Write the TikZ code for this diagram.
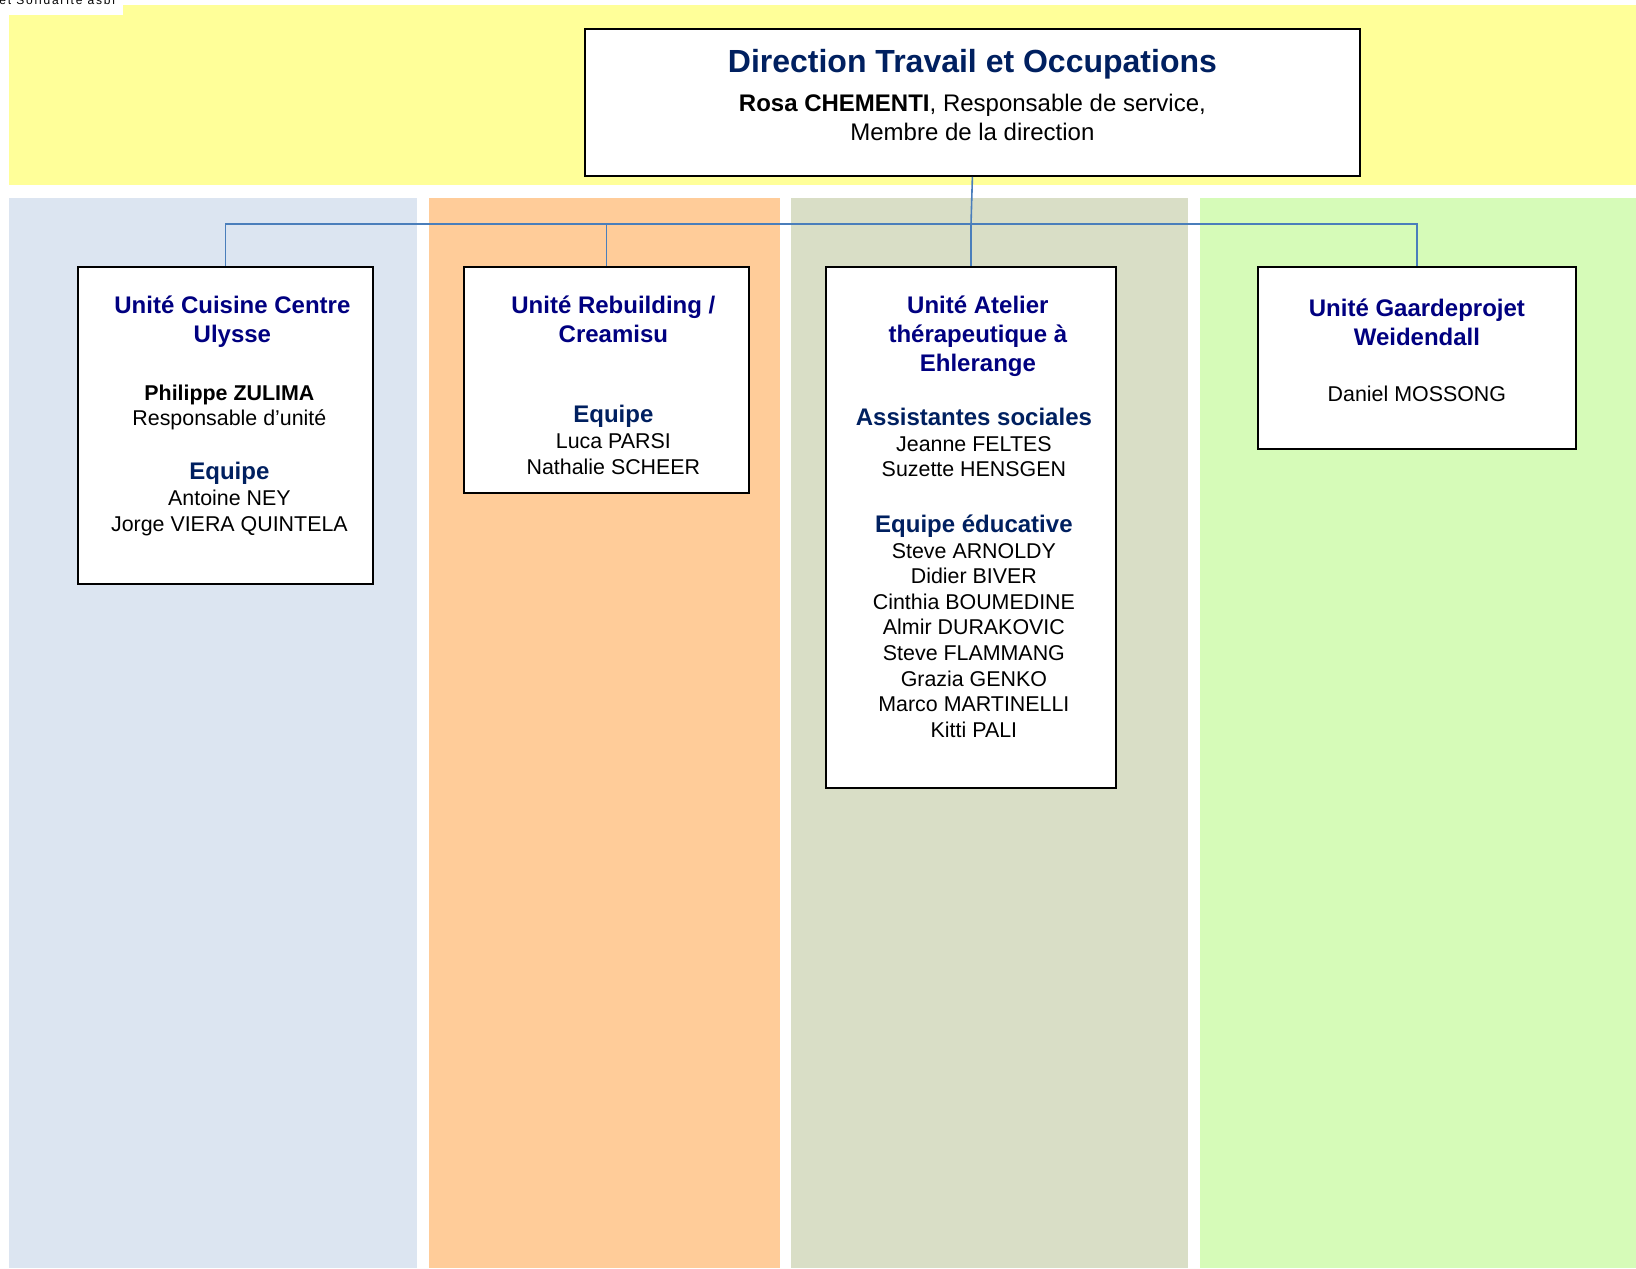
\documentclass[tikz,border=0pt]{standalone}
\usepackage{fontspec}
\setmainfont{Liberation Sans}
\newfontfamily\asblfont[LetterSpace=15]{Liberation Sans}
\usetikzlibrary{positioning}

\definecolor{bandyellow}{HTML}{FFFF99}
\definecolor{colblue}{HTML}{DCE5F1}
\definecolor{colorange}{HTML}{FFCC99}
\definecolor{coltan}{HTML}{D9DEC6}
\definecolor{colgreen}{HTML}{D6FBB8}
\definecolor{unitnavy}{HTML}{000080}
\definecolor{teamnavy}{HTML}{002060}
\definecolor{linkblue}{HTML}{4A7EBB}

\newcommand{\teamhead}[1]{{\fontsize{12}{14.6}\selectfont\bfseries\color{teamnavy}#1}}

\begin{document}
\begin{tikzpicture}[x=0.5pt,y=-0.5pt,
  unit box/.style={draw,line width=0.9pt,fill=white,anchor=north west,inner sep=0},
  unit head/.style={anchor=north,align=center,inner sep=0,text=unitnavy,font=\fontsize{12}{14.6}\selectfont\bfseries},
  staff/.style={anchor=north,align=center,inner sep=0,font=\fontsize{10.7}{12.8}\selectfont},
  link/.style={draw=linkblue,line width=0.8pt}]

\useasboundingbox (0,0) rectangle (1636,1268);

% background bands
\fill[bandyellow] (9,5) rectangle (1636,185);
\fill[white] (0,0) rectangle (123,15);
\node[anchor=base west,inner sep=0,font=\asblfont\fontsize{6}{7}\selectfont] (asbl) at (-1,5) {et Solidarité asbl};
\fill[colblue] (9,198) rectangle (417,1268);
\fill[colorange] (429,198) rectangle (780,1268);
\fill[coltan] (791,198) rectangle (1188,1268);
\fill[colgreen] (1200,198) rectangle (1636,1268);

% direction
\node[unit box,minimum width=387.5pt,minimum height=73.5pt] (direction) at (584,28) {};
\node[staff,font=\fontsize{12}{14.6}\selectfont,below=10.5pt of direction.north] (direction text)
  {{\fontsize{16}{19}\selectfont\bfseries\color{teamnavy}Direction Travail et Occupations}\\[4.7pt]
   \textbf{Rosa CHEMENTI}, Responsable de service,\\ Membre de la direction};

% units
\node[unit box,minimum width=147.5pt,minimum height=158.5pt] (cuisine) at (77,266) {};
\node[unit box,minimum width=142.5pt,minimum height=113pt] (rebuild) at (463,266) {};
\node[unit box,minimum width=145pt,minimum height=260.5pt] (atelier) at (825,266) {};
\node[unit box,minimum width=159pt,minimum height=91pt] (gaarde) at (1257,266) {};

\node[unit head,below=14.5pt of cuisine.north,xshift=3.5pt] (cuisine head) {Unité Cuisine Centre\\Ulysse};
\node[staff,below=59.2pt of cuisine.north,xshift=2pt] (cuisine staff)
  {\textbf{Philippe ZULIMA}\\Responsable d’unité\\[14.2pt]\teamhead{Equipe}\\Antoine NEY\\Jorge VIERA QUINTELA};

\node[unit head,below=14.5pt of rebuild.north,xshift=3.5pt] (rebuild head) {Unité Rebuilding /\\Creamisu};
\node[staff,below=69.2pt of rebuild.north,xshift=3.5pt] (rebuild staff)
  {\teamhead{Equipe}\\[0.4pt]Luca PARSI\\[0.4pt]Nathalie SCHEER};

\node[unit head,below=14.5pt of atelier.north,xshift=3.5pt] (atelier head) {Unité Atelier\\thérapeutique à\\Ehlerange};
\node[staff,below=70.9pt of atelier.north,xshift=1.5pt] (atelier staff)
  {\teamhead{Assistantes sociales}\\Jeanne FELTES\\Suzette HENSGEN\\[15pt]
   \teamhead{Equipe éducative}\\Steve ARNOLDY\\Didier BIVER\\Cinthia BOUMEDINE\\Almir DURAKOVIC\\
   Steve FLAMMANG\\Grazia GENKO\\Marco MARTINELLI\\Kitti PALI};

\node[unit head,below=16.2pt of gaarde.north] (gaarde head) {Unité Gaardeprojet\\Weidendall};
\node[staff,below=59.9pt of gaarde.north] (gaarde staff) {Daniel MOSSONG};

% connectors
\coordinate (bus) at (971,224);
\draw[link] (direction.south) -- (bus);
\draw[link] (cuisine.north) |- (bus) -| (gaarde.north);
\draw[link] (rebuild.north) -- (rebuild.north |- bus);
\draw[link] (atelier.north) -- (atelier.north |- bus);
\end{tikzpicture}
\end{document}
